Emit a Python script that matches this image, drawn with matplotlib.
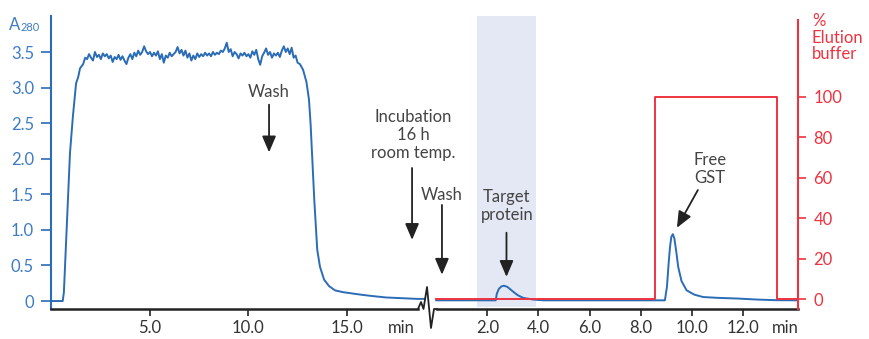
import matplotlib
matplotlib.use("Agg")
import matplotlib.pyplot as plt
import numpy as np

plt.rcParams["font.family"] = ["Lato", "DejaVu Sans"]

BLUE = "#2b6cb7"
BLUE_TXT = "#3f7cc4"
RED = "#ee3340"
BAND = "#e4e7f4"

# first run (min) before the break
run1_t = [0.0, 0.56, 0.62, 0.93, 1.08, 1.24, 1.35, 1.44, 1.6, 1.7]
run1_a = [0.0, 0.0, 0.12, 2.08, 2.6, 3.06, 3.15, 3.27, 3.33, 3.42]
plateau_t0 = 1.8
plateau_a = [
    3.40, 3.47, 3.42, 3.38, 3.50, 3.43, 3.46, 3.40, 3.48, 3.44,
    3.47, 3.41, 3.45, 3.36, 3.43, 3.40, 3.46, 3.39, 3.44, 3.38,
    3.33, 3.42, 3.47, 3.40, 3.49, 3.44, 3.52, 3.46, 3.50, 3.58,
    3.51, 3.47, 3.50, 3.44, 3.49, 3.45, 3.51, 3.40, 3.47, 3.35,
    3.45, 3.42, 3.49, 3.44, 3.47, 3.50, 3.57, 3.48, 3.53, 3.45,
    3.52, 3.42, 3.48, 3.38, 3.45, 3.40, 3.48, 3.43, 3.47, 3.44,
    3.49, 3.45, 3.48, 3.44, 3.50, 3.46, 3.49, 3.47, 3.52, 3.50,
    3.55, 3.63, 3.50, 3.54, 3.44, 3.50, 3.47, 3.41, 3.48, 3.45,
    3.49, 3.44, 3.47, 3.42, 3.51, 3.46, 3.53, 3.40, 3.32, 3.44,
    3.49, 3.55, 3.46, 3.50, 3.42, 3.48, 3.45, 3.49, 3.43, 3.52,
    3.58, 3.50, 3.55, 3.47, 3.56, 3.42, 3.45, 3.35,
]
tail_t = [12.62, 12.78, 12.95, 13.08, 13.16, 13.23, 13.35, 13.5, 13.64, 13.85,
          14.1, 14.4, 14.8, 15.17, 15.7, 16.3, 17.0, 17.8, 18.6, 18.98]
tail_a = [3.33, 3.25, 3.08, 2.83, 2.5, 2.1, 1.42, 0.72, 0.48, 0.30,
          0.21, 0.15, 0.125, 0.11, 0.09, 0.07, 0.05, 0.04, 0.03, 0.03]

# second run (min) after the break
run2_t = [0.0, 2.33, 2.37, 2.45, 2.55, 2.65, 2.78, 2.9, 3.05, 3.2, 3.4, 3.8, 4.2,
          8.95, 9.03, 9.1, 9.15, 9.2, 9.26, 9.32, 9.4, 9.47, 9.6, 9.8, 10.1,
          10.45, 11.0, 11.8, 12.6, 13.3, 14.1]
run2_a = [0.01, 0.01, 0.10, 0.17, 0.205, 0.215, 0.2, 0.165, 0.12, 0.08, 0.045, 0.02, 0.01,
          0.01, 0.20, 0.55, 0.76, 0.9, 0.94, 0.88, 0.68, 0.48, 0.28, 0.15, 0.09,
          0.056, 0.045, 0.035, 0.02, 0.012, 0.01]
buffer_t = [0.0, 8.56, 8.56, 13.33, 13.33, 14.1]
buffer_pct = [0, 0, 100, 100, 0, 0]
band_t = (1.58, 3.9)

ticks1 = [5.0, 10.0, 15.0]
ticks2 = [2.0, 4.0, 6.0, 8.0, 10.0, 12.0]

# second run is drawn on a shared axis: offset + scaled time
OFF2 = 19.548
SC2 = 1.299


def x2(t):
    return OFF2 + SC2 * np.asarray(t, dtype=float)


t1 = np.concatenate([run1_t, plateau_t0 + 0.1 * np.arange(len(plateau_a)), tail_t])
a1 = np.concatenate([run1_a, plateau_a, tail_a])

fig = plt.figure(figsize=(8.7, 3.39), dpi=100)
ax = fig.add_axes([50.7 / 870, 30 / 339, (798 - 50.7) / 870, 293 / 339])
ax2 = ax.twinx()

ax.set_xlim(-0.05, 37.94)
ax.set_ylim(-0.112, 4.006)
ax2.set_ylim(-4.69, 139.9)

ax.axvspan(x2(band_t[0]), x2(band_t[1]), ymin=0.007, ymax=1, color=BAND, lw=0, zorder=0)
ax.plot(t1, a1, color=BLUE, lw=1.4, zorder=3)
ax.plot(x2(run2_t), run2_a, color=BLUE, lw=1.4, zorder=3)
ax2.plot(x2(buffer_t), buffer_pct, color=RED, lw=1.4, zorder=4)

# spines
for s in ["top", "bottom", "right"]:
    ax.spines[s].set_visible(False)
for s in ["top", "bottom", "left"]:
    ax2.spines[s].set_visible(False)
ax.spines["left"].set_color(BLUE)
ax.spines["left"].set_linewidth(1.5)
ax2.spines["right"].set_color(RED)
ax2.spines["right"].set_linewidth(1.5)
ax2.spines["right"].set_bounds(-4.69, 138)

# broken bottom axis
xt = ax.get_xaxis_transform()
ax.plot([-0.05, (418 - 51.7) / 19.67], [0, 0], color="#222222", lw=1.8,
        transform=xt, clip_on=False, zorder=5)
ax.plot([(437 - 51.7) / 19.67, 37.94], [0, 0], color="#222222", lw=1.8,
        transform=xt, clip_on=False, zorder=5)
zz_px = [418, 421, 423.5, 427, 431, 434, 437]
zz_py = [309, 302, 309, 287, 328, 309, 309]
ax.plot([(p - 51.7) / 19.67 for p in zz_px], [(309 - p) / 293 for p in zz_py],
        color="#222222", lw=1.3, transform=xt, clip_on=False, zorder=5)

# ticks
ax.set_xticks(list(ticks1) + list(x2(ticks2)))
ax.set_xticklabels([f"{v:.1f}" for v in ticks1] + [f"{v:.1f}" for v in ticks2])
ax.tick_params(axis="x", direction="out", length=5, width=1.2, colors="#222222",
               labelcolor="#333333", labelsize=12, pad=3)
ax.set_yticks([0, 0.5, 1.0, 1.5, 2.0, 2.5, 3.0, 3.5])
ax.set_yticklabels(["0", "0.5", "1.0", "1.5", "2.0", "2.5", "3.0", "3.5"])
ax.tick_params(axis="y", direction="out", length=7, width=1.2, colors=BLUE,
               labelcolor=BLUE_TXT, labelsize=12, pad=5)
ax2.set_yticks([0, 20, 40, 60, 80, 100])
ax2.tick_params(axis="y", direction="out", length=6, width=1.2, colors=RED,
                labelcolor=RED, labelsize=12, pad=5)

ax.text((401 - 51.7) / 19.67, -0.036, "min", transform=xt, ha="center", va="top",
        fontsize=12, color="#333333")
ax.text(x2(13.65), -0.036, "min", transform=xt, ha="center", va="top",
        fontsize=12, color="#333333")

# axis titles
fig.text(9 / 870, 1 - 30 / 339, "A", fontsize=12, color=BLUE_TXT, ha="left", va="baseline")
fig.text(21 / 870, 1 - 31 / 339, "280", fontsize=8, color=BLUE_TXT, ha="left", va="baseline")
fig.text(812 / 870, 1 - 13 / 339, "%\nElution\nbuffer", fontsize=12, color=RED,
         ha="left", va="top", linespacing=1.05)

# annotations
arrow = dict(arrowstyle="-|>,head_length=0.7,head_width=0.3", color="#222222",
             lw=1.3, mutation_scale=14, shrinkA=0, shrinkB=0)
txt = dict(fontsize=12, color="#444444", ha="center", va="center", linespacing=1.15)

ax.text(11.05, 2.94, "Wash", **txt)
ax.annotate("", xy=(11.05, 2.09), xytext=(11.05, 2.76), arrowprops=arrow)

ax.text(18.37, 2.33, "Incubation\n16 h\nroom temp.", **txt)
ax.annotate("", xy=(18.32, 0.86), xytext=(18.32, 1.87), arrowprops=arrow)

ax.text(19.84, 1.49, "Wash", **txt)
ax.annotate("", xy=(19.84, 0.37), xytext=(19.84, 1.35), arrowprops=arrow)

ax.text(x2(2.77), 1.335, "Target\nprotein", **txt)
ax.annotate("", xy=(x2(2.75), 0.34), xytext=(x2(2.75), 0.96), arrowprops=arrow)

ax.text(x2(10.72), 1.86, "Free\nGST", **txt)
ax.annotate("", xy=(x2(9.42), 1.03), xytext=(x2(10.24), 1.56), arrowprops=arrow)

fig.savefig("out.png", dpi=100)
